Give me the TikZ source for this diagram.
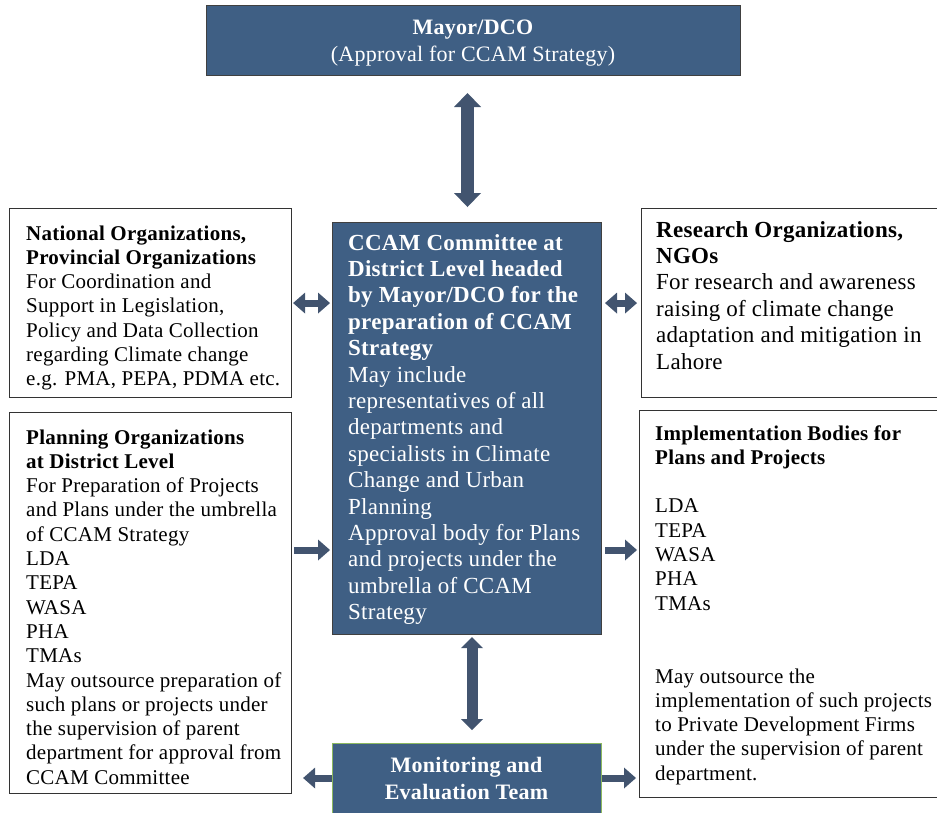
\documentclass[tikz,border=0pt]{standalone}
\usepackage{fontspec}
\setmainfont{Liberation Serif}[LetterSpace=1.2]
\usetikzlibrary{arrows.meta}
\definecolor{boxblue}{HTML}{3F5F84}
\definecolor{arrblue}{HTML}{42546F}
\definecolor{megreen}{HTML}{8CB860}

\begin{document}
\begin{tikzpicture}[x=1pt,y=1pt,
    whitebox/.style={draw=black!80,line width=1.1pt,fill=white,anchor=north west,inner sep=0pt},
    bluebox/.style={draw=black!75,line width=1pt,fill=boxblue,anchor=north west,inner sep=0pt},
    sidetext/.style={anchor=base west,align=left,inner sep=0pt,font=\fontsize{21}{24.3}\selectfont},
    bigtext/.style={anchor=base west,align=left,inner sep=0pt,font=\fontsize{23}{26.4}\selectfont},
    bigarr/.style={arrblue,line width=13pt,<->,>={Triangle[length=14pt,width=27pt,line width=0pt]}},
    midarr/.style={arrblue,line width=11pt,<->,>={Triangle[length=11pt,width=22pt,line width=0pt]}},
    sidearr/.style={arrblue,line width=7pt,>={Triangle[length=12pt,width=21pt,line width=0pt]}}]
    \useasboundingbox (0,0) rectangle (937,-812);

    % top
    \node[bluebox,minimum width=534,minimum height=70] (mayor) at (206,-5) {};
    \node[anchor=base,align=center,inner sep=0pt,text=white,font=\fontsize{22}{27}\selectfont]
      (mayor text) at (473,-61) {\textbf{Mayor/DCO}\\(Approval for CCAM Strategy)};

    % centre
    \node[bluebox,minimum width=269,minimum height=412] (ccam) at (332,-222) {};
    \node[bigtext,text=white] (ccam text) at (348,-619.6)
      {\textbf{CCAM Committee at}\\
       \textbf{District Level headed}\\
       \textbf{by Mayor/DCO for the}\\
       \textbf{preparation of CCAM}\\
       \textbf{Strategy}\\
       May include\\
       representatives of all\\
       departments and\\
       specialists in Climate\\
       Change and Urban\\
       Planning\\
       Approval body for Plans\\
       and projects under the\\
       umbrella of CCAM\\
       Strategy};

    \node[draw=megreen,line width=1pt,fill=boxblue,anchor=north west,inner sep=0pt,
      minimum width=269,minimum height=75] (me) at (332,-743) {};
    \node[anchor=base,align=center,inner sep=0pt,text=white,font=\bfseries\fontsize{22}{27}\selectfont]
      (me text) at (466.5,-799) {Monitoring and\\Evaluation Team};

    % left side
    \node[whitebox,minimum width=282,minimum height=189] (nat) at (9,-208) {};
    \node[sidetext] (nat text) at (26,-385.8)
      {\textbf{National Organizations,}\\
       \textbf{Provincial Organizations}\\
       For Coordination and\\
       Support in Legislation,\\
       Policy and Data Collection\\
       regarding Climate change\\
       e.g. PMA, PEPA, PDMA etc.};

    \node[whitebox,minimum width=282,minimum height=381] (plan) at (9,-412) {};
    \node[sidetext] (plan text) at (26,-784.2)
      {\textbf{Planning Organizations}\\
       \textbf{at District Level}\\
       For Preparation of Projects\\
       and Plans under the umbrella\\
       of CCAM Strategy\\
       LDA\\
       TEPA\\
       WASA\\
       PHA\\
       TMAs\\
       May outsource preparation of\\
       such plans or projects under\\
       the supervision of parent\\
       department for approval from\\
       CCAM Committee};

    % right side
    \node[whitebox,minimum width=310,minimum height=189] (res) at (641,-208) {};
    \node[bigtext] (res text) at (656,-369)
      {\textbf{Research Organizations,}\\
       \textbf{NGOs}\\
       For research and awareness\\
       raising of climate change\\
       adaptation and mitigation in\\
       Lahore};

    \node[whitebox,minimum width=312,minimum height=387] (impl) at (639,-410) {};
    \node[sidetext] (impl text) at (655,-780.2)
      {\textbf{Implementation Bodies for}\\
       \textbf{Plans and Projects}\\[24.3pt]
       LDA\\
       TEPA\\
       WASA\\
       PHA\\
       TMAs\\[48.6pt]
       May outsource the\\
       implementation of such projects\\
       to Private Development Firms\\
       under the supervision of parent\\
       department.};

    % arrows
    \coordinate (lvl) at (0,-550);
    \draw[bigarr,shorten <=17pt,shorten >=15pt] ([xshift=-6pt]mayor.south) -- ([xshift=-6pt]mayor.south |- ccam.north);
    \draw[midarr,shorten <=2pt,shorten >=13pt] ([xshift=5pt]ccam.south) -- ([xshift=5pt]ccam.south |- me.north);
    \draw[sidearr,<->,shorten <=1pt,shorten >=2pt] (nat.east) -- (nat.east -| ccam.west);
    \draw[sidearr,<->,shorten <=3pt,shorten >=4pt] (res.west -| ccam.east) -- (res.west);
    \draw[sidearr,->,shorten <=2pt,shorten >=2pt] (plan.east |- lvl) -- (ccam.west |- lvl);
    \draw[sidearr,->,shorten <=3pt,shorten >=2pt] (ccam.east |- lvl) -- (impl.west |- lvl);
    \draw[sidearr,->,shorten >=11pt] ([yshift=3pt]me.west) -- ([yshift=3pt]me.west -| plan.east);
    \draw[sidearr,->,shorten >=3pt] ([yshift=3pt]me.east) -- ([yshift=3pt]me.east -| impl.west);
\end{tikzpicture}
\end{document}
